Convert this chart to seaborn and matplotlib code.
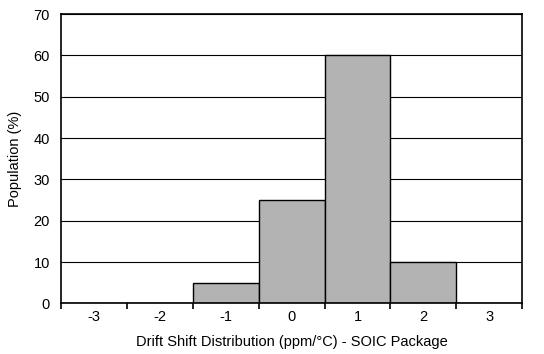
import numpy as np
import pandas as pd
import matplotlib.pyplot as plt
import seaborn as sns

# data
drift = ["-3", "-2", "-1", "0", "1", "2", "3"]
population = [0, 0, 5, 25, 60, 10, 0]

df = pd.DataFrame({"drift": drift, "population": population})

sns.set_style("white")
plt.rcParams["font.family"] = ["Liberation Sans", "DejaVu Sans"]
plt.rcParams["text.color"] = "black"
plt.rcParams["axes.labelcolor"] = "black"
plt.rcParams["xtick.color"] = "black"
plt.rcParams["ytick.color"] = "black"

fig, ax = plt.subplots(figsize=(5.44, 3.54), dpi=100)
fig.subplots_adjust(left=0.112, right=0.96, top=0.96, bottom=0.143)

ax.yaxis.grid(True, color="black", linewidth=0.8)
ax.set_axisbelow(True)
sns.barplot(data=df, x="drift", y="population", color="#b3b3b3", saturation=1,
            width=1, edgecolor="black", linewidth=1, ax=ax)

ax.set_xlim(-0.5, 6.5)
ax.set_ylim(0, 70)
ax.set_yticks(range(0, 71, 10))
ax.set_xticks(np.arange(-0.5, 7, 1), minor=True)
ax.tick_params(axis="x", which="major", length=0, labelsize=10.5, pad=5)
ax.tick_params(axis="x", which="minor", length=4, width=1.2, color="black", direction="out", bottom=True)
ax.tick_params(axis="y", length=0, labelsize=10.5, pad=8)

for s in ax.spines.values():
    s.set_color("black")
    s.set_linewidth(1.2)

ax.set_xlabel("Drift Shift Distribution (ppm/°C) - SOIC Package", fontsize=10.5, labelpad=8)
ax.set_ylabel("Population (%)", fontsize=10.5, labelpad=8)

plt.savefig("out.png", dpi=100)
